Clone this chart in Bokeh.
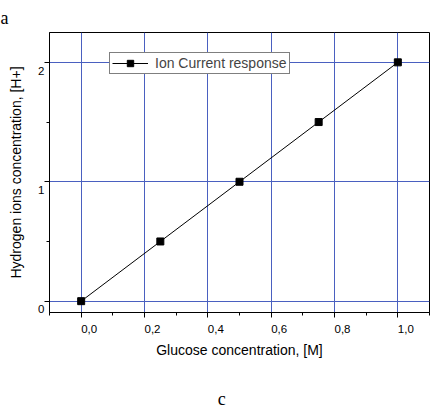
from bokeh.plotting import figure
from bokeh.models import (FixedTicker, Legend, LegendItem, LinearAxis, Title,
                          CustomJSTickFormatter)
from bokeh.embed import file_html
from bokeh.resources import INLINE

# data
glucose = [0.0, 0.25, 0.5, 0.75, 1.0]
hydrogen = [0.0, 0.5, 1.0, 1.5, 2.0]
x_ticks = [0.0, 0.2, 0.4, 0.6, 0.8, 1.0]
x_tick_labels = ["0,0", "0,2", "0,4", "0,6", "0,8", "1,0"]
x_minor = [-0.1, 0.1, 0.3, 0.5, 0.7, 0.9, 1.1]
y_ticks = [0, 1, 2]
y_tick_labels = ["0", "1", "2"]
y_minor = [0.5, 1.5]
series_name = "Ion Current response"
x_title = "Glucose concentration, [M]"
y_title = "Hydrogen ions concentration, [H+]"
caption_top = "a"
caption_bottom = "c"

FONT = "Liberation Sans"
SERIF = "Liberation Serif"
GRID = "#4a60c0"
# the reference prints tick labels beside (right of / below) their ticks
X_LABEL_SHIFT = 0.0252   # in x data units (~8 px)
Y_LABEL_SHIFT = 0.069    # in y data units (~8 px)
CAPTION_X = 0.444        # horizontal place of the bottom caption, x data units

p = figure(width=430, height=411, x_range=(-0.1, 1.1), y_range=(-0.095, 2.25),
           output_backend="svg", toolbar_location=None,
           min_border_left=49, min_border_right=1, min_border_top=31, min_border_bottom=99)
p.background_fill_color = "white"
p.border_fill_color = "white"
p.outline_line_color = "black"
p.outline_line_width = 1

# tick-only axes
p.xaxis.ticker = FixedTicker(ticks=x_ticks, minor_ticks=x_minor)
p.yaxis.ticker = FixedTicker(ticks=y_ticks, minor_ticks=y_minor)
p.xaxis.formatter = CustomJSTickFormatter(code="return ''")
p.yaxis.formatter = CustomJSTickFormatter(code="return ''")
for ax in (p.xaxis, p.yaxis):
    ax.axis_line_color = "black"
    ax.major_tick_line_color = "black"
    ax.minor_tick_line_color = "black"
    ax.major_tick_in = 0
    ax.minor_tick_in = 0
    ax.major_tick_out = 5
    ax.minor_tick_out = 3
    ax.major_label_standoff = 0
    ax.major_label_text_font_size = "11.5px"

# label-only axes
xlab = LinearAxis(ticker=FixedTicker(ticks=[t + X_LABEL_SHIFT for t in x_ticks], minor_ticks=[]),
                  formatter=CustomJSTickFormatter(args=dict(labels=x_tick_labels),
                                                  code="return labels[index]"))
ylab = LinearAxis(ticker=FixedTicker(ticks=[t - Y_LABEL_SHIFT for t in y_ticks], minor_ticks=[]),
                  formatter=CustomJSTickFormatter(args=dict(labels=y_tick_labels),
                                                  code="return labels[index]"))
caplab = LinearAxis(ticker=FixedTicker(ticks=[CAPTION_X], minor_ticks=[]),
                    formatter=CustomJSTickFormatter(args=dict(labels=[caption_bottom]),
                                                    code="return labels[index]"))
for ax in (xlab, ylab, caplab):
    ax.axis_line_color = None
    ax.major_tick_line_color = None
    ax.minor_tick_line_color = None
    ax.major_tick_in = 0
    ax.major_tick_out = 0
    ax.minor_tick_in = 0
    ax.minor_tick_out = 0
    ax.major_label_text_font = FONT
    ax.major_label_text_font_size = "11.5px"
    ax.major_label_text_color = "black"
    ax.axis_label_text_font = FONT
    ax.axis_label_text_font_size = "14px"
    ax.axis_label_text_font_style = "normal"
    ax.axis_label_text_color = "black"
xlab.major_label_standoff = 7
xlab.axis_label = x_title
xlab.axis_label_standoff = 6
ylab.major_label_standoff = 0
ylab.axis_label = y_title
ylab.axis_label_standoff = 11
caplab.major_label_text_font = SERIF
caplab.major_label_text_font_size = "18px"
caplab.major_label_standoff = 28
p.add_layout(xlab, "below")
p.add_layout(caplab, "below")
p.add_layout(ylab, "left")

p.xgrid.ticker = FixedTicker(ticks=x_ticks)
p.ygrid.ticker = FixedTicker(ticks=y_ticks)
p.grid.grid_line_color = GRID
p.grid.grid_line_width = 1

ln = p.line(glucose, hydrogen, line_color="black", line_width=1)
sc = p.scatter(glucose, hydrogen, marker="square", size=7, fill_color="black", line_color="black")

legend = Legend(items=[LegendItem(label=series_name, renderers=[ln, sc])],
                location=(60, 238), margin=0, padding=2,
                glyph_width=36, glyph_height=16, label_height=16, label_standoff=7,
                label_text_font=FONT, label_text_font_size="14px",
                border_line_color="black", border_line_width=1,
                background_fill_color="white", background_fill_alpha=1)
p.add_layout(legend, "center")

# top caption
p.add_layout(Title(text=caption_top, align="left", offset=-49, standoff=10,
                   text_font=SERIF, text_font_size="18px", text_font_style="normal",
                   text_color="black"), "above")

open("out.html", "w").write(file_html(p, INLINE))
